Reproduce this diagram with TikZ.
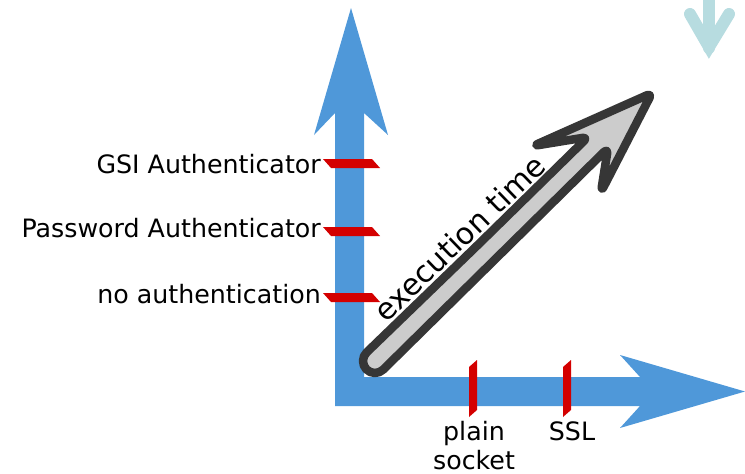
\documentclass[tikz,border=0pt]{standalone}
\usepackage{fontspec}
\setmainfont{DejaVu Sans}
\definecolor{axisblue}{HTML}{4F98D9}
\definecolor{tickred}{HTML}{D40000}
\definecolor{timegray}{HTML}{CCCCCC}
\definecolor{timeline}{HTML}{363636}
\definecolor{hintteal}{HTML}{B7DCE0}
\begin{document}
\begin{tikzpicture}[x=1pt,y=-1pt,
  axis/.style={fill=axisblue,draw=none},
  tickmark/.style={fill=tickred,draw=none},
  label/.style={font=\fontsize{25.3}{30}\selectfont,text=black,inner sep=0pt},
  timearrow/.style={fill=timegray,draw=timeline,line width=8.5pt,line join=round}]
\useasboundingbox (0,0) rectangle (745,474);

% both axes as one L-shaped double arrow
\fill[axis] (351,8) -- (388,135) -- (364,113) -- (364,377) -- (640,377)
  -- (620,355) -- (745,391.5) -- (620,428) -- (640,406) -- (335,406)
  -- (335,113) -- (314,135) -- cycle;

% ticks on the vertical axis
\foreach \y/\n in {159/gsi,227/pwd,293/none}{
  \fill[tickmark] (323,\y) -- (372,\y) -- (380,\y+9) -- (331,\y+9) -- cycle;
  \coordinate (t-\n) at (322,\y+4.5);
}
% ticks on the horizontal axis
\foreach \x/\n in {469/plain,563/ssl}{
  \fill[tickmark] (\x,367) -- (\x+8,360) -- (\x+8,410) -- (\x,417) -- cycle;
  \coordinate (t-\n) at (\x+4,417);
}

% tick labels
\node[label,anchor=base east] (lgsi) at (321,173) {GSI Authenticator};
\node[label,anchor=base east] (lpwd) at (321,237) {Password Authenticator};
\node[label,anchor=base east] (lnone) at (321,303) {no authentication};
\node[label,anchor=base] (lplain) at (474,440) {plain};
\node[label,anchor=base] (lsocket) at (474,469) {socket};
\node[label,anchor=base] (lssl) at (572,440) {SSL};

% diagonal execution-time arrow (round tail, notched head)
\draw[timearrow] (477.7,245.1) [rounded corners=6pt] -- (588,137) -- (533,146)
  -- (652,93) -- (601,192) -- (608,148) [rounded corners=12pt]
  -- (374.71,377.97) -- (358.03,360.71) -- cycle;
\node[font=\fontsize{30}{35}\selectfont,anchor=base,rotate=44,inner sep=0pt]
  (exec) at (467,246) {execution time};

% small down arrow in the corner
\draw[hintteal,line width=12pt,line cap=round] (709,-5) -- (709,48);
\draw[hintteal,line width=12pt,line cap=round,line join=miter]
  (690,14) -- (709,47) -- (729,14);
\end{tikzpicture}
\end{document}
